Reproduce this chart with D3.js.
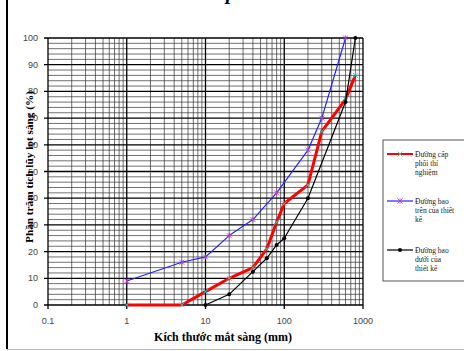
<!DOCTYPE html>
<html>
<head>
<meta charset="utf-8">
<script src="https://cdn.jsdelivr.net/npm/d3@7"></script>
<style>
  body { margin: 0; background: #fff; }
  svg { display: block; }
</style>
</head>
<body>
<div id="wrapper"></div>
<script>
// data
const sizesTest = [1, 5, 10, 20, 40, 60, 80, 100, 200, 300, 600, 800];
const passTest = [0, 0, 5, 10, 14, 21, 31, 38, 45, 65, 77, 86];

const sizesUpper = [1, 5, 10, 20, 40, 80, 200, 300, 600];
const passUpper = [9, 16, 18, 26, 32, 42, 58, 70, 100];

const sizesLower = [10, 20, 40, 60, 80, 100, 200, 600, 800];
const passLower = [0, 4, 12.5, 17.5, 22.5, 25, 40, 76, 100];

const xTicks = [0.1, 1, 10, 100, 1000];
const xTickLabels = ['0.1', '1', '10', '100', '1000'];
const yTicks = [0, 10, 20, 30, 40, 50, 60, 70, 80, 90, 100];

const legendLabels = [
  ['Đường cấp', 'phối thí', 'nghiệm'],
  ['Đường bao', 'trên của thiết', 'kế'],
  ['Đường bao', 'dưới của', 'thiết kế'],
];

function drawChart() {
  // 1. dimensions
  const width = 464;
  const height = 351;
  const plot = {left: 48, right: 363, top: 38, bottom: 305};

  const svg = d3
    .select('#wrapper')
    .append('svg')
    .attr('width', width)
    .attr('height', height);

  // page frame bits
  svg.append('line')
    .attr('x1', 7).attr('x2', 7).attr('y1', 0).attr('y2', 349)
    .attr('stroke', '#000').attr('stroke-width', 2);
  svg.append('line')
    .attr('x1', 7).attr('x2', width).attr('y1', 349.5).attr('y2', 349.5)
    .attr('stroke', '#bbb').attr('stroke-width', 1);

  // cut-off heading letter at the top (cut in the reference too)
  svg.append('text')
    .attr('x', 226).attr('y', -1)
    .attr('font-family', 'Liberation Serif')
    .attr('font-style', 'italic')
    .attr('font-weight', 'bold')
    .attr('font-size', 20)
    .text('p');

  // 2. scales
  const x = d3.scaleLog().domain([0.1, 1000]).range([plot.left, plot.right]);
  const y = d3.scaleLinear().domain([0, 100]).range([plot.bottom, plot.top]);

  // 3. grid
  const grid = svg.append('g');

  const minorX = [];
  [0.1, 1, 10, 100].forEach(d => {
    for (let k = 2; k <= 9; k++) minorX.push(d * k);
  });
  grid.selectAll('.vminor')
    .data(minorX)
    .enter().append('line')
    .attr('x1', d => x(d)).attr('x2', d => x(d))
    .attr('y1', plot.top).attr('y2', plot.bottom)
    .attr('stroke', '#4a4a4a').attr('stroke-width', 0.8);

  const minorY = d3.range(0, 101, 2).filter(d => d % 10 !== 0);
  grid.selectAll('.hminor')
    .data(minorY)
    .enter().append('line')
    .attr('x1', plot.left).attr('x2', plot.right)
    .attr('y1', d => y(d)).attr('y2', d => y(d))
    .attr('stroke', '#333').attr('stroke-width', 0.7);

  grid.selectAll('.hmajor')
    .data(yTicks)
    .enter().append('line')
    .attr('x1', plot.left - 4).attr('x2', plot.right)
    .attr('y1', d => y(d)).attr('y2', d => y(d))
    .attr('stroke', '#000').attr('stroke-width', 1.3);

  grid.selectAll('.vmajor')
    .data(xTicks)
    .enter().append('line')
    .attr('x1', d => x(d)).attr('x2', d => x(d))
    .attr('y1', plot.top).attr('y2', plot.bottom + 4)
    .attr('stroke', '#000').attr('stroke-width', 1.3);

  // 4. tick labels
  svg.selectAll('.ylab')
    .data(yTicks)
    .enter().append('text')
    .attr('x', 38)
    .attr('y', d => y(d) + 3)
    .attr('text-anchor', 'end')
    .attr('font-family', 'Liberation Sans')
    .attr('font-size', 9)
    .attr('fill', '#444')
    .text(d => d);

  svg.selectAll('.xlab')
    .data(xTicks)
    .enter().append('text')
    .attr('x', d => x(d))
    .attr('y', 324)
    .attr('text-anchor', 'middle')
    .attr('font-family', 'Liberation Sans')
    .attr('font-size', 9)
    .attr('fill', '#444')
    .text((d, i) => xTickLabels[i]);

  // axis titles
  svg.append('text')
    .attr('transform', 'translate(33,167) rotate(-90)')
    .attr('text-anchor', 'middle')
    .attr('font-family', 'Liberation Serif')
    .attr('font-weight', 'bold')
    .attr('font-size', 11)
    .attr('textLength', 152)
    .attr('lengthAdjust', 'spacingAndGlyphs')
    .text('Phần trăm tích lũy lọt sàng (%)');

  svg.append('text')
    .attr('x', 223).attr('y', 341)
    .attr('text-anchor', 'middle')
    .attr('font-family', 'Liberation Serif')
    .attr('font-weight', 'bold')
    .attr('font-size', 12)
    .text('Kích thước mắt sàng (mm)');

  // 5. lines
  const line = d3.line().x(d => x(d[0])).y(d => y(d[1]));
  const series = [
    {sizes: sizesTest, pass: passTest, color: '#f00', width: 3, marker: 'x', markerColor: '#3cc'},
    {sizes: sizesUpper, pass: passUpper, color: '#22f', width: 1.2, marker: 'star', markerColor: '#c3c'},
    {sizes: sizesLower, pass: passLower, color: '#000', width: 1.2, marker: 'dot', markerColor: '#000'},
  ];

  function drawMarker(g, type, color, px, py) {
    if (type === 'dot') {
      g.append('circle').attr('cx', px).attr('cy', py).attr('r', 2).attr('fill', color);
    } else {
      const s = 2.5;
      g.append('path')
        .attr('d', `M${px - s},${py - s}L${px + s},${py + s}M${px - s},${py + s}L${px + s},${py - s}` +
          (type === 'star' ? `M${px},${py - s}L${px},${py + s}` : ''))
        .attr('stroke', color).attr('stroke-width', 0.9).attr('fill', 'none');
    }
  }

  series.forEach(s => {
    const pts = s.sizes.map((d, i) => [d, s.pass[i]]);
    svg.append('path')
      .attr('d', line(pts))
      .attr('fill', 'none')
      .attr('stroke', s.color)
      .attr('stroke-width', s.width)
      .attr('stroke-linejoin', 'round');
    const g = svg.append('g');
    pts.forEach(p => drawMarker(g, s.marker, s.markerColor, x(p[0]), y(p[1])));
  });

  // 6. legend
  const legend = svg.append('g');
  legend.append('rect')
    .attr('x', 383).attr('y', 140)
    .attr('width', 90).attr('height', 141)
    .attr('fill', '#fff')
    .attr('stroke', '#555').attr('stroke-width', 1);

  const legendY = [154, 201, 250];
  series.forEach((s, i) => {
    const ly = legendY[i];
    legend.append('line')
      .attr('x1', 387).attr('x2', 413).attr('y1', ly).attr('y2', ly)
      .attr('stroke', s.color).attr('stroke-width', s.width === 3 ? 2 : 1.2);
    drawMarker(legend, s.marker, s.markerColor, 400, ly);
    legendLabels[i].forEach((t, j) => {
      legend.append('text')
        .attr('x', 415).attr('y', ly + 2.5 + j * 9.2)
        .attr('font-family', 'Liberation Serif')
        .attr('font-size', 7.5)
        .attr('fill', '#222')
        .text(t);
    });
  });
}
drawChart();
</script>
</body>
</html>
